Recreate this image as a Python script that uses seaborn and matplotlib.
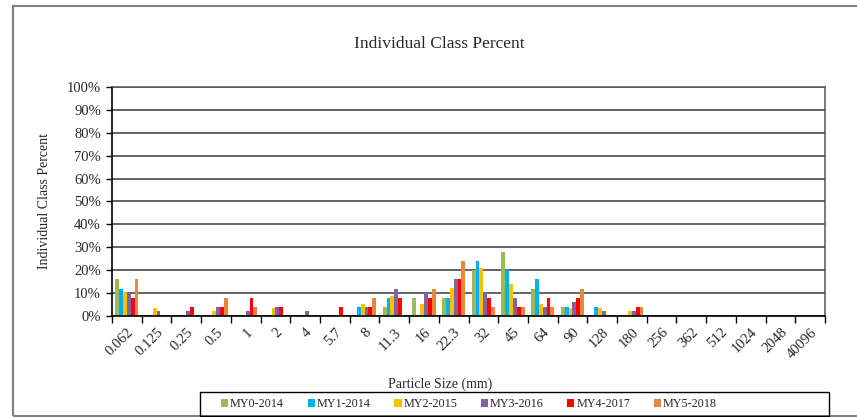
import matplotlib
matplotlib.use("Agg")
import matplotlib.pyplot as plt
import seaborn as sns
import pandas as pd
from matplotlib.patches import Rectangle
from matplotlib.ticker import FixedLocator, FuncFormatter

sizes = ["0.062", "0.125", "0.25", "0.5", "1", "2", "4", "5.7", "8", "11.3", "16",
         "22.3", "32", "45", "64", "90", "128", "180", "256", "362", "512", "1024",
         "2048", "40096"]
series = ["MY0-2014", "MY1-2014", "MY2-2015", "MY3-2016", "MY4-2017", "MY5-2018"]
colors = ["#9BBB59", "#00B0F0", "#FFC000", "#8064A2", "#FF0000", "#E8853F"]

my0 = [16, 0, 0, 0, 0, 0, 0, 0, 0, 4, 8, 8, 20, 28, 12, 4, 0, 0, 0, 0, 0, 0, 0, 0]
my1 = [12, 0, 0, 0, 0, 0, 0, 0, 4, 8, 0, 8, 24, 20, 16, 4, 4, 0, 0, 0, 0, 0, 0, 0]
my2 = [10.5, 3.5, 0, 2, 0, 3.5, 0, 0, 5.3, 8.8, 5.3, 12.4, 21, 14, 5.3, 3.5, 3.5, 2, 0, 0, 0, 0, 0, 0]
my3 = [10, 2, 2, 4, 2, 4, 2, 0, 4, 12, 10, 16, 10, 8, 4, 6, 2, 2, 0, 0, 0, 0, 0, 0]
my4 = [8, 0, 4, 4, 8, 4, 0, 4, 4, 8, 8, 16.2, 8, 4, 8, 8, 0, 4, 0, 0, 0, 0, 0, 0]
my5 = [16, 0, 0, 8, 4, 0, 0, 0, 8, 0, 12, 24, 4, 4, 4, 12, 0, 4, 0, 0, 0, 0, 0, 0]

values = [my0, my1, my2, my3, my4, my5]
rows = []
for s, vals in zip(series, values):
    for c, v in zip(sizes, vals):
        rows.append({"size": c, "pct": v, "series": s})
df = pd.DataFrame(rows)

sns.set_theme(style="white")
plt.rcParams["font.family"] = ["Liberation Serif", "DejaVu Serif"]

fig = plt.figure(figsize=(8.57, 4.17), dpi=100)
ax = fig.add_axes([112/857, 1-316/417, (825-112)/857, (316-87)/417])

sns.barplot(data=df, x="size", y="pct", hue="series", order=sizes,
            hue_order=series, palette=colors, width=0.78, ax=ax,
            legend=False, errorbar=None, saturation=1, linewidth=0)

ax.set_xlim(-0.5, len(sizes) - 0.5)
ax.set_ylim(0, 100)
ax.set_yticks(range(0, 101, 10))
ax.yaxis.set_major_formatter(FuncFormatter(lambda v, p: f"{int(v)}%"))
ax.grid(axis="y", color="#3a3a3a", linewidth=1.1)
ax.set_axisbelow(True)

ax.set_xticks(range(len(sizes)))
ax.set_xticklabels(sizes, rotation=45, ha="right", rotation_mode="anchor", fontsize=10.5)
ax.xaxis.set_minor_locator(FixedLocator([i - 0.5 for i in range(len(sizes) + 1)]))
ax.tick_params(axis="x", which="major", length=0, pad=7)
ax.tick_params(axis="x", which="minor", length=5, width=1, color="black", direction="out", bottom=True)
ax.tick_params(axis="y", length=4, width=1, color="black", direction="out", left=True, labelsize=10.5, pad=4)

for side in ["left", "bottom"]:
    ax.spines[side].set_color("black")
    ax.spines[side].set_linewidth(1.2)
for side in ["top", "right"]:
    ax.spines[side].set_color("#555555")
    ax.spines[side].set_linewidth(1.1)

ax.set_xlabel("Particle Size (mm)", fontsize=10)
ax.set_ylabel("Individual Class Percent", fontsize=10)
ax.xaxis.set_label_coords((440-112)/(825-112), -(378-316)/(316-87))
ax.yaxis.set_label_coords(-(112-51)/(825-112), 0.5)

fig.text(439/857, 1-44/417, "Individual Class Percent", ha="center", va="center", fontsize=12.5)

# outer chart border
fig.patches.append(Rectangle((13/857, 1-416/417), 1.0, (416-6)/417, transform=fig.transFigure,
                             fill=False, edgecolor="#7f7f7f", linewidth=1.5))
# legend box
fig.patches.append(Rectangle((200/857, 1-416/417), (829-200)/857, (416-392)/417,
                             transform=fig.transFigure, fill=False, edgecolor="black",
                             linewidth=1.0))

handles = [Rectangle((0, 0), 1, 1, facecolor=c, edgecolor="none") for c in colors]
fig.legend(handles, series, loc="center left", bbox_to_anchor=(221/857, 1-404/417),
           ncol=6, frameon=False, fontsize=8.7, handlelength=0.6, handleheight=0.6,
           handletextpad=0.15, columnspacing=1.95, borderpad=0, borderaxespad=0)

fig.savefig("out.png", dpi=100)
